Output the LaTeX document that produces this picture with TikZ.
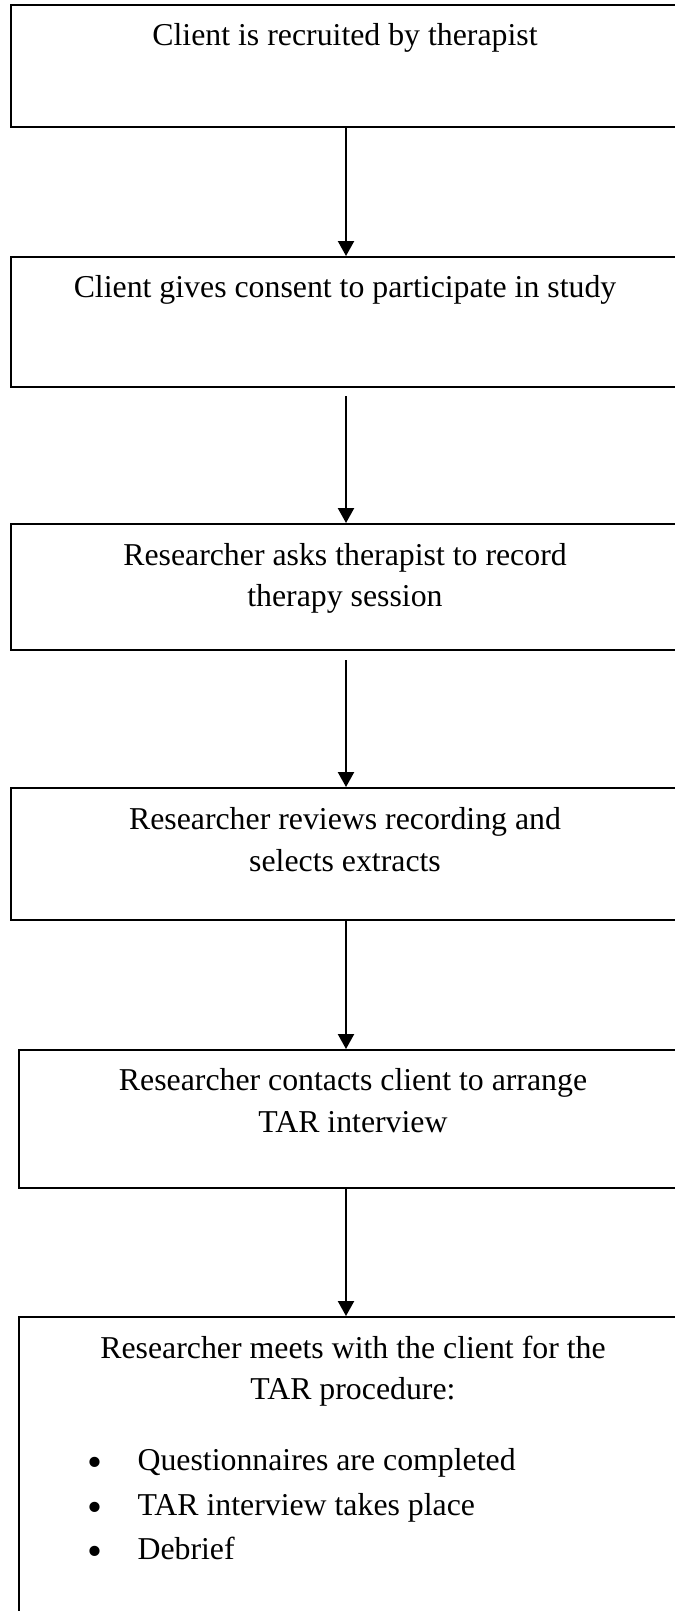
\documentclass[tikz,border=0pt]{standalone}
\usepackage{fontspec}
\setmainfont{Liberation Serif}
\usetikzlibrary{arrows.meta,fit}
\begin{document}
\begin{tikzpicture}[x=0.375pt,y=-0.375pt,
  box/.style={draw=black,line width=0.75pt,inner sep=0pt,rectangle},
  lbl/.style={inner sep=0pt,anchor=base,font=\fontsize{11.93pt}{15.6pt}\selectfont},
  dot/.style={inner sep=0pt,anchor=base,font=\fontsize{16pt}{18pt}\selectfont},
  blt/.style={inner sep=0pt,anchor=base west,font=\fontsize{11.93pt}{15.6pt}\selectfont},
  arr/.style={line width=0.75pt,-{Triangle[length=5.6pt,width=6pt]}}]
\useasboundingbox (0,0) rectangle (675,1611);
\clip (0,0) rectangle (675,1611);
% boxes
\node[box,fit={(11,5) (700,127)}] (b1) {};
\node[box,fit={(11,257) (700,387)}] (b2) {};
\node[box,fit={(11,524) (700,650)}] (b3) {};
\node[box,fit={(11,788) (700,920)}] (b4) {};
\node[box,fit={(19,1050) (700,1188)}] (b5) {};
\node[box,fit={(19,1317) (700,1640)}] (b6) {};
% texts
\node[lbl] (t1) at (345,45) {Client is recruited by therapist};
\node[lbl] (t2) at (345,297) {Client gives consent to participate in study};
\node[lbl] (t3a) at (345,565) {Researcher asks therapist to record};
\node[lbl] (t3b) at (345,606) {therapy session};
\node[lbl] (t4a) at (345,829) {Researcher reviews recording and};
\node[lbl] (t4b) at (345,871) {selects extracts};
\node[lbl] (t5a) at (353,1090) {Researcher contacts client to arrange};
\node[lbl] (t5b) at (353,1132) {TAR interview};
\node[lbl] (t6a) at (353,1358) {Researcher meets with the client for the};
\node[lbl] (t6b) at (353,1399) {TAR procedure:};
\node[dot] (d1) at (95,1476) {•};
\node[dot] (d2) at (95,1521) {•};
\node[dot] (d3) at (95,1565) {•};
\node[blt] (i1) at (137,1470) {Questionnaires are completed};
\node[blt] (i2) at (137,1515) {TAR interview takes place};
\node[blt] (i3) at (137,1559) {Debrief};
% connectors
\coordinate (ax) at (346,0);
\draw[arr] (b1.south -| ax) -- (b2.north -| ax);
\draw[arr,shorten <=3pt] (b2.south -| ax) -- (b3.north -| ax);
\draw[arr,shorten <=3.4pt] (b3.south -| ax) -- (b4.north -| ax);
\draw[arr] (b4.south -| ax) -- (b5.north -| ax);
\draw[arr] (b5.south -| ax) -- (b6.north -| ax);
\end{tikzpicture}
\end{document}
